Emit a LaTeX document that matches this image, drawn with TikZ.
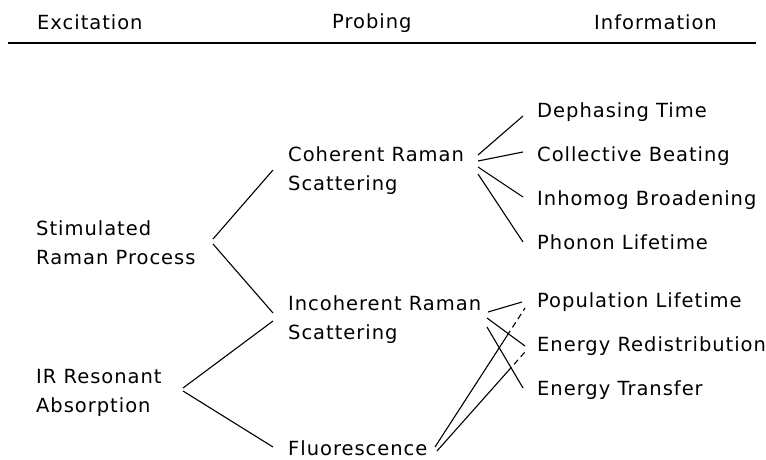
\documentclass[tikz,border=0pt]{standalone}
\usepackage{fontspec}
\setmainfont{DejaVu Sans}[LetterSpace=5]
\usetikzlibrary{calc}
\tikzset{
	every node/.style={
		font=\fontsize{19.5}{29}\selectfont
	},
	entry/.style={
		anchor=base west,
		inner sep=0pt,
		align=left
	},
	link/.style={line width=1.1pt},
	linkdash/.style={line width=1.1pt, dash pattern=on 6pt off 4pt},
}

\begin{document}
\begin{tikzpicture}
	[x=1pt, y=-1pt]
	\useasboundingbox (0,0) rectangle (766,459);
	
	% column heads and rule
	\node[entry] (exc) at (37,29) {Excitation};
	\node[entry] (prob) at (332,28) {Probing};
	\node[entry] (info) at (594,29) {Information};
	\coordinate (rule-l) at (8,43);
	\coordinate (rule-r) at (756,43);
	\draw[line width=1.8pt] (rule-l) -- (rule-r);
	
	% excitation (base = last line)
	\node[entry] (stim) at (36,264) {Stimulated\\Raman Process};
	\node[entry] (ir) at (36,412) {IR Resonant\\Absorption};
	
	% probing
	\node[entry] (coh) at (288,190) {Coherent Raman\\Scattering};
	\node[entry] (incoh) at (288,339) {Incoherent Raman\\Scattering};
	\node[entry] (fluor) at (288,455) {Fluorescence};
	
	% information
	\foreach \name / \y / \txt in {deph/117/Dephasing Time, coll/161/Collective Beating,
		inh/205/Inhomog Broadening, phon/249/Phonon Lifetime, pop/307/Population Lifetime,
		ered/351/Energy Redistribution, etr/395/Energy Transfer}
	\node[entry] (\name) at (537,\y) {\txt};
	
	\draw[link] ($(stim.base west)+(177,-25)$) -- ($(coh.base west)+(-15,-20)$);
	\draw[link] ($(stim.base west)+(177,-20)$) -- ($(incoh.base west)+(-15,-26)$);
	\draw[link] ($(ir.base west)+(147,-24)$) -- ($(incoh.base west)+(-15,-18)$);
	\draw[link] ($(ir.base west)+(147,-21)$) -- ($(fluor.base west)+(-15,-8)$);
	
	\foreach \dest / \sy / \ey in {deph/-35/-1, coll/-29/-9, inh/-23/-8, phon/-16/-7}
	\draw[link] ($(coh.base west)+(190,\sy)$) -- ($(\dest.base west)+(-14,\ey)$);
	
	\foreach \dest / \sx / \sy / \ex / \ey in {pop/200/-27/-15/-5, ered/199/-21/-12/-5, etr/199/-12/-14/-7}
	\draw[link] ($(incoh.base west)+(\sx,\sy)$) -- ($(\dest.base west)+(\ex,\ey)$);
	
	% fluorescence: solid, then dashed near the end
	\foreach \dest / \sx / \sy in {pop/147/-8, ered/149/-4} {
		\coordinate (f-\dest) at ($(fluor.base west)+(\sx,\sy)$);
		\coordinate (e-\dest) at ($(\dest.base west)+(-12,1)$);
		\draw[link] (f-\dest) -- ($(f-\dest)!0.8!(e-\dest)$);
		\draw[linkdash] ($(f-\dest)!0.8!(e-\dest)$) -- (e-\dest);
	}
\end{tikzpicture}
\end{document}
